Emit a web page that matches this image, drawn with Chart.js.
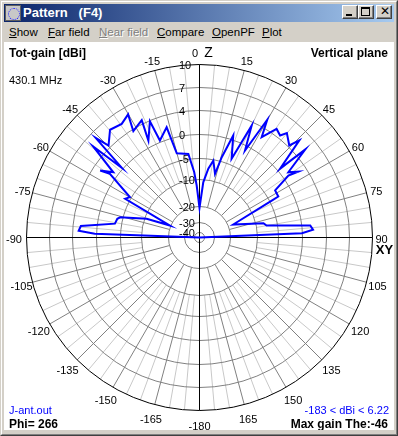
<!DOCTYPE html>
<html><head><meta charset="utf-8">
<script src="https://cdn.jsdelivr.net/npm/chart.js@4.4.0/dist/chart.umd.min.js"></script>
<style>
html,body{margin:0;padding:0;width:398px;height:436px;overflow:hidden;background:#d4d0c8;font-family:"Liberation Sans",Arial,sans-serif;}
.abs{position:absolute;box-sizing:border-box;}
#f1{left:0;top:0;width:398px;height:436px;border:1px solid;border-color:#d4d0c8 #404040 #404040 #d4d0c8;}
#f2{left:1px;top:1px;width:396px;height:434px;border:1px solid;border-color:#ffffff #808080 #808080 #ffffff;}
#title{left:4px;top:4px;width:390px;height:18px;background:linear-gradient(to right,#0a246a,#a6caf0);}
#ttext{left:23px;top:4px;color:#fff;font-weight:bold;font-size:13px;line-height:17px;white-space:pre;}
#icon{left:5px;top:5px;width:16px;height:16px;background:#c8c8c8;border:1px solid #606060;}
#icon div{position:absolute;left:2px;top:2px;width:10px;height:10px;border:1px dotted #2020ff;border-radius:50%;}
.btn{top:5px;width:16px;height:14px;background:#d4d0c8;border:1px solid;border-color:#ffffff #404040 #404040 #ffffff;box-shadow:inset -1px -1px #808080;}
.menu{top:26px;font-size:11.5px;line-height:13px;color:#000;white-space:pre;}
#client{left:4px;top:42px;width:390px;height:388px;background:#fff;}
</style></head>
<body>
<div id="f1" class="abs"></div>
<div id="f2" class="abs"></div>
<div id="title" class="abs"></div>
<div id="icon" class="abs"><div></div></div>
<div id="ttext" class="abs">Pattern   (F4)</div>
<div class="abs btn" style="left:342px"><div class="abs" style="left:3px;top:8px;width:6px;height:2px;background:#000"></div></div>
<div class="abs btn" style="left:358px"><div class="abs" style="left:2px;top:1px;width:9px;height:9px;border:1px solid #000;border-top-width:2px"></div></div>
<div class="abs btn" style="left:376px"><div class="abs" style="left:3px;top:-1px;font-size:12px;font-weight:bold;line-height:13px;font-family:'DejaVu Sans',sans-serif">✕</div></div>
<div class="abs menu" style="left:9px"><u>S</u>how</div>
<div class="abs menu" style="left:48px"><u>F</u>ar field</div>
<div class="abs menu" style="left:99px;color:#808080;text-shadow:1px 1px #fff"><u>N</u>ear field</div>
<div class="abs menu" style="left:157px"><u>C</u>ompare</div>
<div class="abs menu" style="left:212px"><u>O</u>penPF</div>
<div class="abs menu" style="left:262px"><u>P</u>lot</div>
<div id="client" class="abs"><canvas id="c" width="390" height="388"></canvas></div>
<script>
// ---- data ----
const ringLabels = ['10','7','4','0','-5','-10','-20','-30','-40'];
const ringGain   = [10, 7, 4, 0, -5, -10, -20, -30, -40];
const angleTicks = [0,15,30,45,60,75,90,105,120,135,150,165,180,-165,-150,-135,-120,-105,-90,-75,-60,-45,-30,-15];
const angleTickLabels = ['0','15','30','45','60','75','90','105','120','135','150','165','-180','-165','-150','-135','-120','-105','-90','-75','-60','-45','-30','-15'];
// elevation angle (deg, 0 = zenith) and total gain (dBi) along the traced pattern
const patternTheta = [-90,-88,-86.8,-84.5,-80.7,-77.2,-75.7,-70.5,-67.9,-62.5,-59.9,-54.6,-56,-52.9,-49.4,-48.1,-46.2,-44.7,-39.7,-34.4,-30.1,-31.9,-26.2,-27.8,-23.1,-22.2,-16.6,-15.1,-7.6,-4.6,-3.1,0,
  3.9,7.3,10.2,13.7,15.5,18.3,22.2,25,27.6,29.9,31.8,35.4,38.3,39.9,44.3,45.8,49.5,50.2,53.7,56.3,55.1,58.1,62.5,62.9,68.9,77.4,79.9,83.8,86.1,87.6,90];
const patternGain  = [-183,0.3,3.0,2.7,-3.6,-3.9,-4.4,-10.7,-19.7,-4.0,-4.7,1.15,2.8,0.85,5.7,0.25,6.2,4.3,5.7,5.4,6.0,3.7,4.5,1.1,3.9,0.3,2.0,-3.3,-3.9,-8.2,-12.2,-20.8,
  -11.0,-7.3,-5.2,-8.2,-4.1,0.75,-3.75,3.4,-1.0,5.15,2.5,4.8,4.4,5.2,4.2,5.6,0.5,5.4,1.2,2.6,0.9,-2.9,-2.95,-4.55,-18.1,-8.2,-7.6,1.4,1.8,-0.1,-183];

// ---- scale geometry (log-like radial scale of the plot) ----
const OUTER = 173;                         // outer ring radius in px
const ringFrac = [173,150,127,103,79,58,31,15,5].map(v => v / OUTER);
function gainToR(g) {
  if (g >= ringGain[0]) return 1;
  for (let i = 0; i < ringGain.length - 1; i++) {
    const g0 = ringGain[i], g1 = ringGain[i + 1];
    if (g <= g0 && g >= g1) return ringFrac[i + 1] + (ringFrac[i] - ringFrac[i + 1]) * (g - g1) / (g0 - g1);
  }
  const last = ringFrac[ringFrac.length - 1];
  return Math.max(0, last * (g + 50) / 10);
}
const rad = d => d * Math.PI / 180;
const points = patternTheta.map((t, i) => {
  const r = gainToR(patternGain[i]);
  return { x: r * Math.sin(rad(t)), y: r * Math.cos(rad(t)) };
});

const FONT = '"Liberation Sans", Arial, sans-serif';
const polarGrid = {
  id: 'polarGrid',
  beforeDatasetsDraw(chart) {
    const ctx = chart.ctx, xs = chart.scales.x, ys = chart.scales.y;
    const cx = xs.getPixelForValue(0), cy = ys.getPixelForValue(0);
    const R = xs.getPixelForValue(1) - cx;
    const P = (r, a) => [xs.getPixelForValue(r * Math.sin(rad(a))), ys.getPixelForValue(r * Math.cos(rad(a)))];
    ctx.save();
    ctx.lineWidth = 1;
    // light spokes every 5 deg
    ctx.strokeStyle = '#c8c8c8';
    for (let a = -175; a <= 180; a += 5) {
      if (a % 15 === 0) continue;
      const p0 = P(ringFrac[5], a), p1 = P(1, a);
      ctx.beginPath(); ctx.moveTo(p0[0], p0[1]); ctx.lineTo(p1[0], p1[1]); ctx.stroke();
    }
    // dark spokes every 15 deg
    ctx.strokeStyle = '#808080';
    for (let a = -165; a <= 180; a += 15) {
      if (a % 90 === 0) continue;
      const p0 = P(ringFrac[6], a), p1 = P(1, a);
      ctx.beginPath(); ctx.moveTo(p0[0], p0[1]); ctx.lineTo(p1[0], p1[1]); ctx.stroke();
    }
    // rings
    for (let i = 1; i < ringFrac.length; i++) {
      ctx.strokeStyle = '#808080';
      ctx.beginPath(); ctx.arc(cx, cy, ringFrac[i] * R, 0, Math.PI * 2); ctx.stroke();
    }
    ctx.strokeStyle = '#000';
    ctx.beginPath(); ctx.arc(cx, cy, R, 0, Math.PI * 2); ctx.stroke();
    // axes
    ctx.beginPath();
    ctx.moveTo(cx, cy - R); ctx.lineTo(cx, cy + R);
    ctx.moveTo(cx - R, cy); ctx.lineTo(cx + R, cy);
    ctx.stroke();
    // ring labels along the vertical axis
    ctx.fillStyle = '#000';
    ctx.font = '11px ' + FONT;
    ctx.textAlign = 'left'; ctx.textBaseline = 'middle';
    ringLabels.forEach((lab, i) => {
      ctx.fillText(lab, cx - 20.5, cy - ringFrac[i] * R + 1.5);
    });
    // angle labels
    ctx.textAlign = 'center';
    angleTicks.forEach((a, i) => {
      let lr = (183 + 5 * Math.max(0, -Math.cos(rad(a)))) / OUTER;
      if (a === -90) lr = 185.5 / OUTER;
      if (a === 90) lr = 182 / OUTER;
      const p = P(lr, a);
      let px = p[0], py = p[1] + 1.5;
      if (a === 0) { px -= 4.5; py -= 2; }
      if (Math.abs(a) === 90) py = cy + 2.5;
      ctx.fillText(angleTickLabels[i], px, py);
    });
    ctx.font = '14px ' + FONT;
    ctx.fillText('Z', cx + 9, cy - 183.5 / OUTER * R - 0.5);
    ctx.font = 'bold 13px ' + FONT;
    ctx.fillText('XY', cx + 185, cy + 12.5);
    ctx.restore();
  },
  afterDraw(chart) {
    const ctx = chart.ctx, W = chart.width;
    ctx.save();
    ctx.textBaseline = 'middle';
    ctx.fillStyle = '#000';
    ctx.font = 'bold 12px ' + FONT;
    ctx.textAlign = 'left';
    ctx.fillText('Tot-gain [dBi]', 5, 11.5);
    ctx.fillText('Phi= 266', 5, 382.5);
    ctx.textAlign = 'right';
    ctx.fillText('Vertical plane', W - 6, 11.5);
    ctx.fillText('Max gain The:-46', W - 6, 382.5);
    ctx.font = '11px ' + FONT;
    ctx.textAlign = 'left';
    ctx.fillText('430.1 MHz', 5, 39);
    ctx.fillStyle = '#0000ff';
    ctx.fillText('J-ant.out', 5, 369);
    ctx.textAlign = 'right';
    ctx.fillText('-183 < dBi < 6.22', W - 5, 369);
    ctx.restore();
  }
};

new Chart(document.getElementById('c'), {
  type: 'scatter',
  data: { datasets: [{
    data: points, showLine: true, borderColor: '#0000ff', borderWidth: 2,
    pointRadius: 0, pointHoverRadius: 0, fill: false, tension: 0, clip: false
  }]},
  options: {
    responsive: false, animation: false, events: [],
    layout: { padding: 0, autoPadding: false },
    plugins: { legend: { display: false }, tooltip: { enabled: false } },
    scales: {
      x: { type: 'linear', display: false, min: -195.5 / OUTER, max: 194.5 / OUTER },
      y: { type: 'linear', display: false, min: -192.5 / OUTER, max: 195.5 / OUTER }
    }
  },
  plugins: [polarGrid]
});
</script>
</body></html>
